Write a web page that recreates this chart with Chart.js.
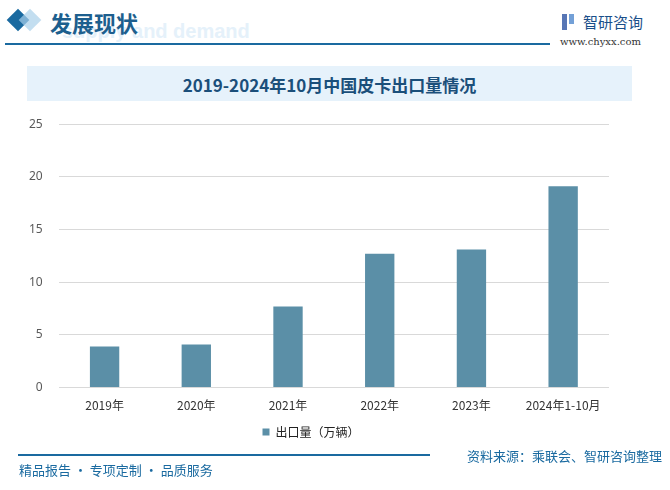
<!DOCTYPE html>
<html><head><meta charset="utf-8">
<script src="https://cdn.jsdelivr.net/npm/chart.js@4.4.1/dist/chart.umd.min.js"></script>
<style>
html,body{margin:0;padding:0;background:#fff;}
#page{position:relative;width:670px;height:490px;overflow:hidden;font-family:"Noto Sans CJK SC","Noto Sans",sans-serif;}
.abs{position:absolute;white-space:nowrap;}
#wrap{position:absolute;left:0;top:101px;width:670px;height:355px;}
</style></head>
<body><div id="page">
<!-- header -->
<div class="abs" style="left:10px;top:12px;width:16px;height:16px;background:#1a6aa0;transform:rotate(45deg);"></div>
<div class="abs" style="left:22px;top:12px;width:16px;height:16px;background:#a9d0ea;transform:rotate(45deg);opacity:0.7"></div>
<div class="abs" style="left:62px;top:20px;font:bold 20px Arial,sans-serif;color:#e5f1fa;">supply and demand</div>
<div class="abs" style="left:50px;top:6px;font:bold 22px 'Noto Sans CJK SC';color:#1d5f8e;">发展现状</div>
<div class="abs" style="left:5px;top:43px;width:545px;height:2px;background:#1a6aa0;"></div>
<div class="abs" style="left:562px;top:14px;width:5px;height:16px;background:#3a5ea8;opacity:0.85"></div>
<div class="abs" style="left:569px;top:14px;width:5px;height:10px;background:#5b8fd0;opacity:0.85"></div>
<div class="abs" style="left:583px;top:11px;font:15px 'Noto Sans CJK SC';color:#1a4f8a;">智研咨询</div>
<div class="abs" style="left:560px;top:36px;font:10px 'DejaVu Serif',serif;color:#333;">www.chyxx.com</div>
<!-- title -->
<div class="abs" style="left:27px;top:66px;width:605px;height:35px;background:#e6f2fb;"></div>
<div class="abs" style="left:27px;top:72px;width:605px;text-align:center;font:bold 17px 'Noto Sans CJK SC';color:#1b4f7a;">2019-2024年10月中国皮卡出口量情况</div>
<!-- chart -->
<div id="wrap"><canvas id="c" width="670" height="355"></canvas></div>
<!-- footer -->
<div class="abs" style="left:18px;top:454px;width:412px;height:2px;background:#1a6aa0;"></div>
<div class="abs" style="left:19px;top:460px;font:13px 'Noto Sans CJK SC';color:#1a6aa0;">精品报告 · 专项定制 · 品质服务</div>
<div class="abs" style="right:8px;top:446px;font:13px 'Noto Sans CJK SC';color:#1a6aa0;">资料来源：乘联会、智研咨询整理</div>
</div>
<script>
const categories = ["2019年","2020年","2021年","2022年","2023年","2024年1-10月"];
const exportVolume = [3.9, 4.1, 7.7, 12.7, 13.1, 19.1];
const seriesName = "出口量（万辆）";
const yTicks = [0,5,10,15,20,25];

new Chart(document.getElementById('c'), {
  type: 'bar',
  data: {
    labels: categories,
    datasets: [{
      label: seriesName,
      data: exportVolume,
      backgroundColor: '#5b8fa7',
      categoryPercentage: 1.0,
      barPercentage: 0.32
    }]
  },
  options: {
    responsive: false,
    animation: false,
    layout: { padding: { left: 13, right: 61, top: 0, bottom: 8 } },
    plugins: {
      legend: {
        position: 'bottom',
        labels: { boxWidth: 7, boxHeight: 7, color: '#222', font: { size: 12, family: "'Noto Sans CJK SC'" }, padding: 10 }
      },
      tooltip: { enabled: false }
    },
    scales: {
      x: {
        grid: { display: false },
        border: { display: false },
        ticks: { color: '#333', font: { size: 12, family: "'Noto Sans CJK SC'" }, padding: 3, maxRotation: 0 }
      },
      y: {
        min: 0, max: 25,
        afterBuildTicks: (s) => { s.ticks = yTicks.map(v => ({ value: v })); },
        grid: { color: '#d9d9d9', drawTicks: false },
        border: { display: false },
        ticks: { color: '#595959', font: { size: 12, family: "'Noto Sans'" }, padding: 16 }
      }
    }
  }
});
</script>
</body></html>
